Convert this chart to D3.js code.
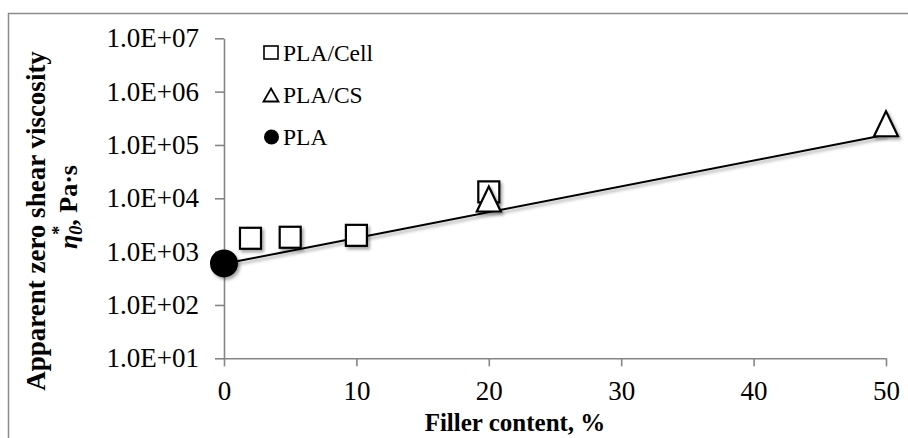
<!DOCTYPE html>
<html>
<head>
<meta charset="utf-8">
<script src="https://cdn.jsdelivr.net/npm/d3@7"></script>
<style>
  html, body { margin: 0; padding: 0; background: #fff; }
  svg { display: block; font-family: "Liberation Serif", "Times New Roman", serif; }
</style>
</head>
<body>
<svg id="chart" width="908" height="438"></svg>
<script>
// Apparent zero shear viscosity vs. filler content
const cellFiller = [2, 5, 10, 20];
const cellViscosity = [1780, 1860, 2020, 13200];

const csFiller = [20, 50];
const csViscosity = [9700, 250000];

const plaFiller = [0];
const plaViscosity = [600];

// Exponential trend line (straight on the log axis), given by its end values
const trendFiller = [0, 50];
const trendViscosity = [590, 155000];

const xTicks = [0, 10, 20, 30, 40, 50];
const xTickLabels = ["0", "10", "20", "30", "40", "50"];
const yTicks = [1e1, 1e2, 1e3, 1e4, 1e5, 1e6, 1e7];
const yTickLabels = ["1.0E+01", "1.0E+02", "1.0E+03", "1.0E+04", "1.0E+05", "1.0E+06", "1.0E+07"];

const legendNames = ["PLA/Cell", "PLA/CS", "PLA"];

const svg = d3.select("#chart");
const axisColor = "#868686";

// outer frame (open on the right and bottom)
svg.append("rect")
  .attr("x", 8.5).attr("y", 13.5)
  .attr("width", 1000).attr("height", 1000)
  .attr("fill", "none").attr("stroke", "#8c8c8c").attr("stroke-width", 1.5);

// soft drop shadow for markers and trend line
const defs = svg.append("defs");
const f = defs.append("filter").attr("id", "shadow")
  .attr("x", "-50%").attr("y", "-50%").attr("width", "200%").attr("height", "200%");
f.append("feDropShadow").attr("dx", 2).attr("dy", 2.5).attr("stdDeviation", 1.6)
  .attr("flood-color", "#000").attr("flood-opacity", 0.35);

const x = d3.scaleLinear().domain([0, 50]).range([224, 886]);
const y = d3.scaleLog().domain([1e1, 1e7]).range([358.3, 38.3]);

// x axis
const xAxis = svg.append("g")
  .attr("transform", `translate(0,${y(1e1)})`)
  .call(d3.axisBottom(x).tickValues(xTicks).tickSize(8).tickSizeOuter(0)
    .tickPadding(15).tickFormat((d, i) => xTickLabels[i]));
xAxis.select(".domain").attr("stroke", axisColor).attr("stroke-width", 1.6);
xAxis.selectAll(".tick line").attr("stroke", axisColor).attr("stroke-width", 1.6);
xAxis.selectAll(".tick text").attr("font-size", 27).attr("fill", "#000")
  .attr("font-family", "Liberation Serif");

// y axis
const yAxis = svg.append("g")
  .attr("transform", `translate(${x(0)},0)`)
  .call(d3.axisLeft(y).tickValues(yTicks).tickSize(9).tickSizeOuter(0)
    .tickPadding(16).tickFormat((d, i) => yTickLabels[i]));
yAxis.select(".domain").attr("stroke", axisColor).attr("stroke-width", 1.6);
yAxis.selectAll(".tick line").attr("stroke", axisColor).attr("stroke-width", 1.6);
yAxis.selectAll(".tick text").attr("font-size", 27).attr("fill", "#000")
  .attr("font-family", "Liberation Serif");

// axis titles
svg.append("text")
  .attr("x", 515).attr("y", 431)
  .attr("text-anchor", "middle")
  .attr("font-size", 25).attr("font-weight", "bold")
  .text("Filler content, %");

svg.append("text")
  .attr("transform", "translate(45,221) rotate(-90)")
  .attr("text-anchor", "middle")
  .attr("font-size", 27).attr("font-weight", "bold")
  .text("Apparent zero shear viscosity");

const yTitle2 = svg.append("text")
  .attr("transform", "translate(77,207) rotate(-90)")
  .attr("text-anchor", "middle")
  .attr("font-size", 26).attr("font-weight", "bold");
yTitle2.append("tspan").attr("font-style", "italic").text("η");
yTitle2.append("tspan").attr("font-style", "italic").attr("font-size", 18).attr("dy", 5).text("0");
yTitle2.append("tspan").attr("font-size", 18).attr("dx", -9).attr("dy", -17).text("*");
yTitle2.append("tspan").attr("dy", 12).text(", Pa·s");

// trend line
const line = d3.line().x(d => x(d[0])).y(d => y(d[1]));
svg.append("path")
  .datum(d3.zip(trendFiller, trendViscosity))
  .attr("d", line)
  .attr("fill", "none").attr("stroke", "#000").attr("stroke-width", 2)
  .attr("filter", "url(#shadow)");

const sqSize = 21, triW = 24, triH = 25, circR = 14;
const triPath = (cx, cy, w, h) =>
  `M${cx},${cy - h / 2}L${cx + w / 2},${cy + h / 2}L${cx - w / 2},${cy + h / 2}Z`;

// PLA/Cell squares
svg.append("g").selectAll("rect")
  .data(d3.zip(cellFiller, cellViscosity))
  .join("rect")
  .attr("x", d => x(d[0]) - sqSize / 2)
  .attr("y", d => y(d[1]) - sqSize / 2)
  .attr("width", sqSize).attr("height", sqSize)
  .attr("fill", "#fff").attr("stroke", "#000").attr("stroke-width", 2.2)
  .attr("filter", "url(#shadow)");

// PLA/CS triangles
svg.append("g").selectAll("path")
  .data(d3.zip(csFiller, csViscosity))
  .join("path")
  .attr("d", d => triPath(x(d[0]), y(d[1]), triW, triH))
  .attr("fill", "#fff").attr("stroke", "#000").attr("stroke-width", 2.2)
  .attr("stroke-linejoin", "miter")
  .attr("filter", "url(#shadow)");

// neat PLA
svg.append("g").selectAll("circle")
  .data(d3.zip(plaFiller, plaViscosity))
  .join("circle")
  .attr("cx", d => x(d[0])).attr("cy", d => y(d[1]))
  .attr("r", circR)
  .attr("fill", "#000")
  .attr("filter", "url(#shadow)");

// legend
const legend = svg.append("g");
const rowY = [53, 95, 137];
const symX = 271;
legend.append("rect")
  .attr("x", symX - 7).attr("y", rowY[0] - 7)
  .attr("width", 14).attr("height", 13)
  .attr("fill", "#fff").attr("stroke", "#000").attr("stroke-width", 1.6);
legend.append("path")
  .attr("d", triPath(symX, rowY[1], 15, 13))
  .attr("fill", "#fff").attr("stroke", "#000").attr("stroke-width", 1.8);
legend.append("circle")
  .attr("cx", symX + 0.5).attr("cy", rowY[2]).attr("r", 7.5).attr("fill", "#000");
legend.selectAll("text")
  .data(legendNames)
  .join("text")
  .attr("x", 283).attr("y", (d, i) => rowY[i] + 7.5)
  .attr("font-size", 23.5)
  .text(d => d);
</script>
</body>
</html>
